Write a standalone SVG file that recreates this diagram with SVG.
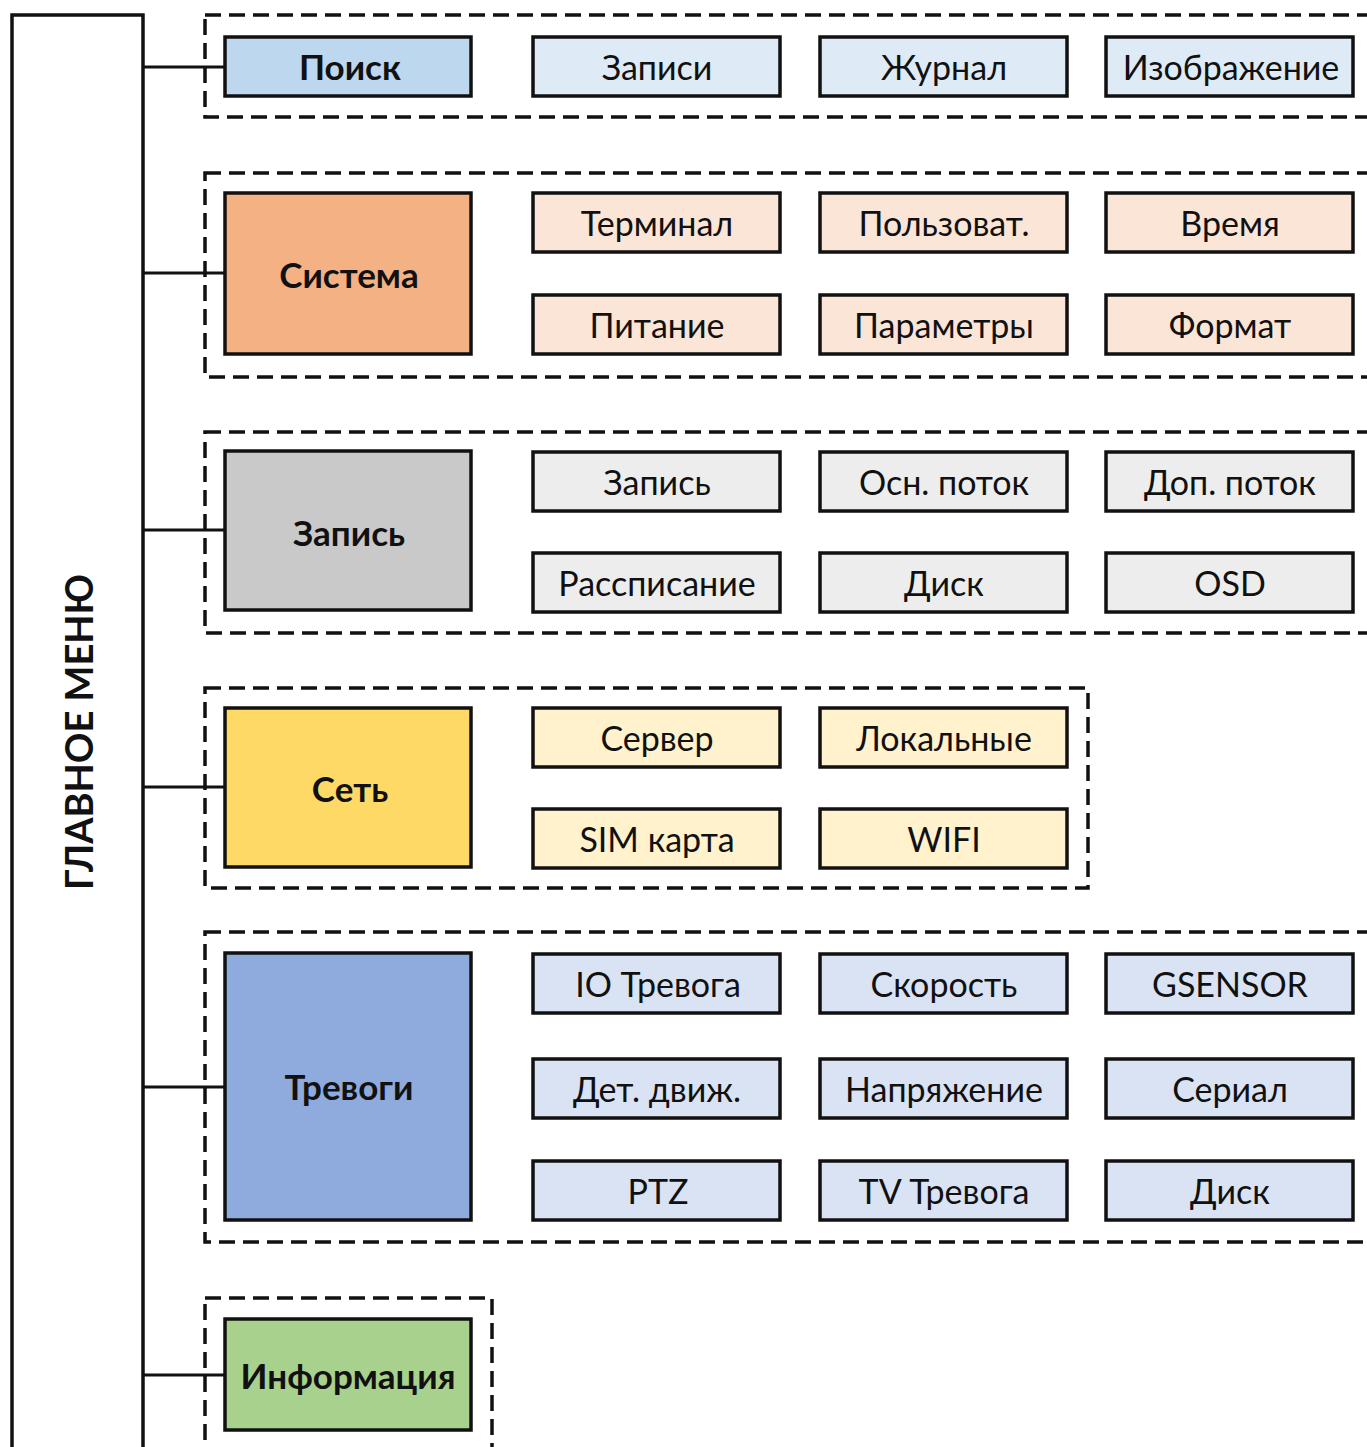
<svg xmlns="http://www.w3.org/2000/svg" width="1367" height="1447" viewBox="0 0 1367 1447">
<style>
.grp{fill:none;stroke:#111;stroke-width:3.5;stroke-dasharray:16 8}
.box{stroke:#111;stroke-width:3.5}
.t{font-family:Lato,"Open Sans","Noto Sans",sans-serif;font-size:34px;fill:#111;text-anchor:middle}
.m{font-weight:bold;font-size:35px}
.con{stroke:#111;stroke-width:3;fill:none}
.c1{fill:#deebf7}.c2{fill:#fbe5d6}.c3{fill:#ededed}.c4{fill:#fff2cc}.c5{fill:#dae3f3}
</style>
<rect width="1367" height="1447" fill="#fff"/>
<g id="main-menu">
<rect x="12" y="15" width="131" height="1460" fill="#fff" class="box" stroke-width="3"/>
<text class="t m" transform="translate(93,732) rotate(-90)" style="font-size:38px">ГЛАВНОЕ МЕНЮ</text>
</g>
<g id="groups">
<rect class="grp" x="205" y="15" width="1180" height="102"/>
<rect class="grp" x="205" y="173" width="1180" height="204"/>
<rect class="grp" x="205" y="432" width="1180" height="201"/>
<rect class="grp" x="205" y="688" width="883" height="200"/>
<rect class="grp" x="205" y="932" width="1180" height="310"/>
<rect class="grp" x="205" y="1298" width="287" height="180"/>
</g>
<g id="connectors">
<path class="con" d="M143 67H225M143 273H225M143 530H225M143 787H225M143 1087H225M143 1375H225"/>
</g>
<g id="poisk">
<rect class="box" x="225" y="37" width="246" height="59" fill="#bdd7ee"/>
<text class="t m" x="350" y="80">Поиск</text>
</g>
<g id="zapisi"><rect class="box c1" x="533" y="37" width="247" height="59"/><text class="t" x="657" y="80">Записи</text></g>
<g id="zhurnal"><rect class="box c1" x="820" y="37" width="247" height="59"/><text class="t" x="944" y="80">Журнал</text></g>
<g id="izobrazhenie"><rect class="box c1" x="1106" y="37" width="247" height="59"/><text class="t" x="1231" y="80">Изображение</text></g>

<g id="sistema">
<rect class="box" x="225" y="193" width="246" height="161" fill="#f4b183"/>
<text class="t m" x="349" y="288">Система</text>
</g>
<g id="terminal"><rect class="box c2" x="533" y="193" width="247" height="59"/><text class="t" x="657" y="236">Терминал</text></g>
<g id="polzovat"><rect class="box c2" x="820" y="193" width="247" height="59"/><text class="t" x="944" y="236">Пользоват.</text></g>
<g id="vremya"><rect class="box c2" x="1106" y="193" width="247" height="59"/><text class="t" x="1230" y="236">Время</text></g>
<g id="pitanie"><rect class="box c2" x="533" y="295" width="247" height="59"/><text class="t" x="657" y="338">Питание</text></g>
<g id="parametry"><rect class="box c2" x="820" y="295" width="247" height="59"/><text class="t" x="944" y="338">Параметры</text></g>
<g id="format"><rect class="box c2" x="1106" y="295" width="247" height="59"/><text class="t" x="1230" y="338">Формат</text></g>

<g id="zapis-main">
<rect class="box" x="225" y="451" width="246" height="159" fill="#c9c9c9"/>
<text class="t m" x="349" y="546">Запись</text>
</g>
<g id="zapis"><rect class="box c3" x="533" y="452" width="247" height="59"/><text class="t" x="657" y="495">Запись</text></g>
<g id="osn-potok"><rect class="box c3" x="820" y="452" width="247" height="59"/><text class="t" x="944" y="495">Осн. поток</text></g>
<g id="dop-potok"><rect class="box c3" x="1106" y="452" width="247" height="59"/><text class="t" x="1230" y="495">Доп. поток</text></g>
<g id="raspisanie"><rect class="box c3" x="533" y="553" width="247" height="59"/><text class="t" x="657" y="596">Рассписание</text></g>
<g id="disk1"><rect class="box c3" x="820" y="553" width="247" height="59"/><text class="t" x="944" y="596">Диск</text></g>
<g id="osd"><rect class="box c3" x="1106" y="553" width="247" height="59"/><text class="t" x="1230" y="596">OSD</text></g>

<g id="set">
<rect class="box" x="225" y="708" width="246" height="159" fill="#ffd966"/>
<text class="t m" x="350" y="802">Сеть</text>
</g>
<g id="server"><rect class="box c4" x="533" y="708" width="247" height="59"/><text class="t" x="657" y="751">Сервер</text></g>
<g id="lokalnye"><rect class="box c4" x="820" y="708" width="247" height="59"/><text class="t" x="944" y="751">Локальные</text></g>
<g id="sim"><rect class="box c4" x="533" y="809" width="247" height="59"/><text class="t" x="657" y="852">SIM карта</text></g>
<g id="wifi"><rect class="box c4" x="820" y="809" width="247" height="59"/><text class="t" x="944" y="852">WIFI</text></g>

<g id="trevogi">
<rect class="box" x="225" y="953" width="246" height="267" fill="#8faadc"/>
<text class="t m" x="349" y="1100">Тревоги</text>
</g>
<g id="io"><rect class="box c5" x="533" y="954" width="247" height="59"/><text class="t" x="658" y="997">IO Тревога</text></g>
<g id="skorost"><rect class="box c5" x="820" y="954" width="247" height="59"/><text class="t" x="944" y="997">Скорость</text></g>
<g id="gsensor"><rect class="box c5" x="1106" y="954" width="247" height="59"/><text class="t" x="1230" y="997">GSENSOR</text></g>
<g id="det"><rect class="box c5" x="533" y="1059" width="247" height="59"/><text class="t" x="657" y="1102">Дет. движ.</text></g>
<g id="napryazhenie"><rect class="box c5" x="820" y="1059" width="247" height="59"/><text class="t" x="944" y="1102">Напряжение</text></g>
<g id="serial"><rect class="box c5" x="1106" y="1059" width="247" height="59"/><text class="t" x="1230" y="1102">Сериал</text></g>
<g id="ptz"><rect class="box c5" x="533" y="1161" width="247" height="59"/><text class="t" x="658" y="1204">PTZ</text></g>
<g id="tv"><rect class="box c5" x="820" y="1161" width="247" height="59"/><text class="t" x="944" y="1204">TV Тревога</text></g>
<g id="disk2"><rect class="box c5" x="1106" y="1161" width="247" height="59"/><text class="t" x="1230" y="1204">Диск</text></g>

<g id="informaciya">
<rect class="box" x="225" y="1319" width="246" height="111" fill="#a9d18e"/>
<text class="t m" x="348" y="1389">Информация</text>
</g>
</svg>
